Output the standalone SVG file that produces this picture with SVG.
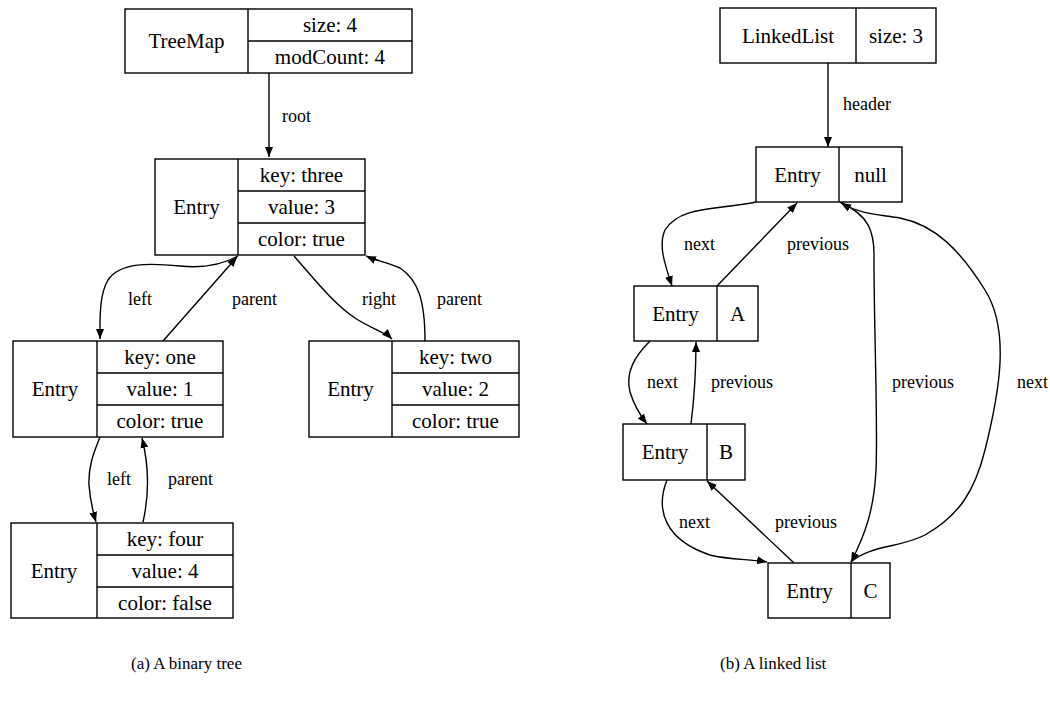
<svg xmlns="http://www.w3.org/2000/svg" width="1050" height="701" viewBox="0 0 1050 701">
<defs>
<marker id="ah" markerWidth="10" markerHeight="8" refX="10" refY="4" orient="auto" markerUnits="userSpaceOnUse">
<path d="M0,0 L10,4 L0,8 z" fill="#000"/>
</marker>
<style>
.box { fill: #fff; stroke: #000; stroke-width: 1.4; }
.sep { fill: none; stroke: #000; stroke-width: 1.4; }
text { font-family: "Liberation Serif", "Times New Roman", "DejaVu Serif", serif; fill: #000; }
.n { font-size: 21px; text-anchor: middle; }
.l { font-size: 18px; }
.c { font-size: 17px; }
.e { fill: none; stroke: #000; stroke-width: 1.4; marker-end: url(#ah); }
</style>
</defs>
<rect x="0" y="0" width="1050" height="701" fill="#fff"/>

<g id="edges">
<path class="e" d="M269,73 L269,157"/>
<path class="e" d="M238,256 C220,266 200,268 180,266 C150,263 120,262 108,280 C99,295 100,320 100,339"/>
<path class="e" d="M163,341 L237,257"/>
<path class="e" d="M294,256 C315,280 335,305 355,318 C370,328 385,332 392,339"/>
<path class="e" d="M425,341 C425,300 418,280 400,268 C385,262 375,260 366,256"/>
<path class="e" d="M100,437 C95,450 88,465 89,485 C90,500 93,512 96,522"/>
<path class="e" d="M143,522 C148,500 150,470 142,438"/>

<path class="e" d="M828,63 L828,147"/>
<path class="e" d="M756,202 C720,210 680,205 665,230 C658,245 665,265 672,286"/>
<path class="e" d="M717,286 L797,203"/>
<path class="e" d="M650,341 C635,356 625,372 630,392 C634,405 640,415 647,424"/>
<path class="e" d="M691,424 C694,400 696,370 696,342"/>
<path class="e" d="M667,480 C655,510 665,540 710,555 C730,560 750,559 767,562"/>
<path class="e" d="M794,563 L707,481"/>
<path class="e" d="M840,202 C868,215 875,230 874,260 C874,330 878,420 876,470 C874,510 865,535 851,562"/>
<path class="e" d="M851,562 C870,545 900,548 925,535 C960,515 975,490 985,450 C1000,390 1010,330 985,290 C960,250 935,225 900,218 C875,214 860,214 841,203"/>
</g>

<g id="edge-labels">
<text class="l" x="282" y="122">root</text>
<text class="l" x="128" y="305">left</text>
<text class="l" x="232" y="305">parent</text>
<text class="l" x="362" y="305">right</text>
<text class="l" x="437" y="305">parent</text>
<text class="l" x="107" y="485">left</text>
<text class="l" x="168" y="485">parent</text>

<text class="l" x="843" y="110">header</text>
<text class="l" x="684" y="250">next</text>
<text class="l" x="787" y="250">previous</text>
<text class="l" x="647" y="388">next</text>
<text class="l" x="711" y="388">previous</text>
<text class="l" x="892" y="388">previous</text>
<text class="l" x="1017" y="388">next</text>
<text class="l" x="679" y="528">next</text>
<text class="l" x="775" y="528">previous</text>
</g>

<g id="treemap">
<rect class="box" x="125" y="9" width="287" height="64"/>
<line class="sep" x1="248" y1="9" x2="248" y2="73"/>
<line class="sep" x1="248" y1="41" x2="412" y2="41"/>
<text class="n" x="186.5" y="48">TreeMap</text>
<text class="n" x="330" y="32">size: 4</text>
<text class="n" x="330" y="64">modCount: 4</text>
</g>

<g id="entry-three">
<rect class="box" x="155" y="159" width="210" height="96"/>
<line class="sep" x1="238" y1="159" x2="238" y2="255"/>
<line class="sep" x1="238" y1="191" x2="365" y2="191"/>
<line class="sep" x1="238" y1="223" x2="365" y2="223"/>
<text class="n" x="196.5" y="214">Entry</text>
<text class="n" x="301.5" y="182">key: three</text>
<text class="n" x="301.5" y="214">value: 3</text>
<text class="n" x="301.5" y="246">color: true</text>
</g>

<g id="entry-one">
<rect class="box" x="13" y="341" width="210" height="96"/>
<line class="sep" x1="97" y1="341" x2="97" y2="437"/>
<line class="sep" x1="97" y1="373" x2="223" y2="373"/>
<line class="sep" x1="97" y1="405" x2="223" y2="405"/>
<text class="n" x="55" y="396">Entry</text>
<text class="n" x="160" y="364">key: one</text>
<text class="n" x="160" y="396">value: 1</text>
<text class="n" x="160" y="428">color: true</text>
</g>

<g id="entry-two">
<rect class="box" x="309" y="341" width="210" height="96"/>
<line class="sep" x1="392" y1="341" x2="392" y2="437"/>
<line class="sep" x1="392" y1="373" x2="519" y2="373"/>
<line class="sep" x1="392" y1="405" x2="519" y2="405"/>
<text class="n" x="350.5" y="396">Entry</text>
<text class="n" x="455.5" y="364">key: two</text>
<text class="n" x="455.5" y="396">value: 2</text>
<text class="n" x="455.5" y="428">color: true</text>
</g>

<g id="entry-four">
<rect class="box" x="11" y="523" width="222" height="95"/>
<line class="sep" x1="97" y1="523" x2="97" y2="618"/>
<line class="sep" x1="97" y1="555" x2="233" y2="555"/>
<line class="sep" x1="97" y1="587" x2="233" y2="587"/>
<text class="n" x="54" y="578">Entry</text>
<text class="n" x="165" y="546">key: four</text>
<text class="n" x="165" y="578">value: 4</text>
<text class="n" x="165" y="610">color: false</text>
</g>

<g id="linkedlist">
<rect class="box" x="720" y="8" width="216" height="55"/>
<line class="sep" x1="856" y1="8" x2="856" y2="63"/>
<text class="n" x="788" y="43">LinkedList</text>
<text class="n" x="896" y="43">size: 3</text>
</g>

<g id="entry-null">
<rect class="box" x="756" y="147" width="146" height="55"/>
<line class="sep" x1="839" y1="147" x2="839" y2="202"/>
<text class="n" x="797.5" y="182">Entry</text>
<text class="n" x="870.5" y="182">null</text>
</g>

<g id="entry-a">
<rect class="box" x="634" y="286" width="124" height="55"/>
<line class="sep" x1="717" y1="286" x2="717" y2="341"/>
<text class="n" x="675.5" y="321">Entry</text>
<text class="n" x="737.5" y="321">A</text>
</g>

<g id="entry-b">
<rect class="box" x="623" y="424" width="122" height="56"/>
<line class="sep" x1="707" y1="424" x2="707" y2="480"/>
<text class="n" x="665" y="459">Entry</text>
<text class="n" x="726" y="459">B</text>
</g>

<g id="entry-c">
<rect class="box" x="768" y="563" width="122" height="55"/>
<line class="sep" x1="851" y1="563" x2="851" y2="618"/>
<text class="n" x="809.5" y="598">Entry</text>
<text class="n" x="870.5" y="598">C</text>
</g>

<g id="captions">
<text class="c" x="131" y="669">(a) A binary tree</text>
<text class="c" x="720" y="669">(b) A linked list</text>
</g>
</svg>
